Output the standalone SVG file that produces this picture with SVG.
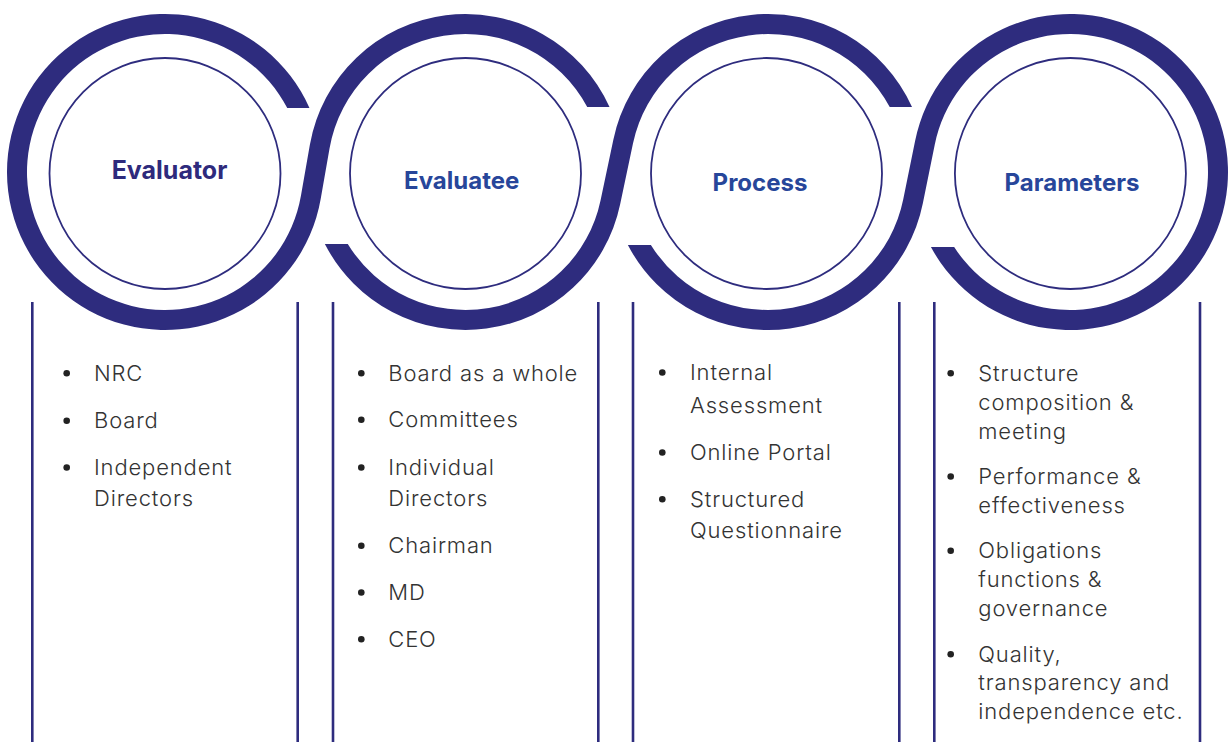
<svg xmlns="http://www.w3.org/2000/svg" width="1230" height="742" viewBox="0 0 1230 742">
<style>
.ring{fill:#2e2c7e;stroke:none}
.inner{fill:#ffffff;stroke:#2e2c7e;stroke-width:1.8}
.vline{stroke:#2e2c7e;stroke-width:2.6;fill:none}
.title{font-family:Inter,'Liberation Sans',sans-serif;font-weight:700;font-size:24px;text-anchor:middle;fill:#27469a}
.t1{fill:#2e2a7c;font-size:25px}
.item{font-family:Inter,'Liberation Sans',sans-serif;font-weight:300;font-size:22px;letter-spacing:0.85px;fill:#333333}
.dot{fill:#222222}
</style>
<rect width="1230" height="742" fill="#ffffff"/>
<g id="rings">
<path class="ring" d="M 309.46,108 A 158 158 0 1 0 320.63,199.25 L 329.57,148.20 A 138 138 0 0 1 587.23,107 L 609.51,107 A 158 158 0 0 0 309.87,144.75 L 300.93,195.80 A 138 138 0 1 1 287.26,108 Z"/>
<path class="ring" d="M 347.77,244 A 138 138 0 0 0 600.53,200.45 L 613.40,139.42 A 158 158 0 0 1 912.01,107 L 889.73,107 A 138 138 0 0 0 632.97,143.55 L 620.10,204.58 A 158 158 0 0 1 324.86,244 Z"/>
<path class="ring" d="M 650.89,245 A 138 138 0 0 0 903.26,199.37 L 915.14,140.66 A 158 158 0 1 1 930.94,247 L 954.16,247 A 138 138 0 1 0 934.74,144.63 L 922.86,203.34 A 158 158 0 0 1 627.88,245 Z"/>
</g>
<g id="connectors">
<line class="vline" x1="32.3" y1="302" x2="32.3" y2="742"/>
<line class="vline" x1="297.7" y1="302" x2="297.7" y2="742"/>
<line class="vline" x1="333" y1="302" x2="333" y2="742"/>
<line class="vline" x1="598.3" y1="302" x2="598.3" y2="742"/>
<line class="vline" x1="633" y1="302" x2="633" y2="742"/>
<line class="vline" x1="899.3" y1="302" x2="899.3" y2="742"/>
<line class="vline" x1="934.3" y1="302" x2="934.3" y2="742"/>
<line class="vline" x1="1200" y1="302" x2="1200" y2="742"/>
</g>
<g id="node-evaluator">
<circle class="inner" cx="165" cy="173.5" r="115.5"/>
<text class="title t1" x="169.5" y="179.3">Evaluator</text>
<circle class="dot" cx="66.7" cy="373.2" r="3.3"/>
<circle class="dot" cx="66.7" cy="420.8" r="3.3"/>
<circle class="dot" cx="66.7" cy="467.5" r="3.3"/>
<text class="item" x="94" y="380.7">NRC</text>
<text class="item" x="94" y="428.3">Board</text>
<text class="item" x="94" y="475">Independent</text>
<text class="item" x="94" y="505.7">Directors</text>
</g>
<g id="node-evaluatee">
<circle class="inner" cx="465.5" cy="173.5" r="115.5"/>
<text class="title" x="461.7" y="189">Evaluatee</text>
<circle class="dot" cx="361.3" cy="373.2" r="3.3"/>
<circle class="dot" cx="361.3" cy="419.8" r="3.3"/>
<circle class="dot" cx="361.3" cy="467.5" r="3.3"/>
<circle class="dot" cx="361.3" cy="545.8" r="3.3"/>
<circle class="dot" cx="361.3" cy="592.5" r="3.3"/>
<circle class="dot" cx="361.3" cy="639.2" r="3.3"/>
<text class="item" x="388.3" y="380.7">Board as a whole</text>
<text class="item" x="388.3" y="427.3">Committees</text>
<text class="item" x="388.3" y="475">Individual</text>
<text class="item" x="388.3" y="505.7">Directors</text>
<text class="item" x="388.3" y="553.3">Chairman</text>
<text class="item" x="388.3" y="600">MD</text>
<text class="item" x="388.3" y="646.7">CEO</text>
</g>
<g id="node-process">
<circle class="inner" cx="766.5" cy="173.5" r="115.5"/>
<text class="title" x="760" y="190.5">Process</text>
<circle class="dot" cx="662.3" cy="372.5" r="3.3"/>
<circle class="dot" cx="662.3" cy="452.5" r="3.3"/>
<circle class="dot" cx="662.3" cy="499.2" r="3.3"/>
<text class="item" x="690" y="380">Internal</text>
<text class="item" x="690" y="412.7">Assessment</text>
<text class="item" x="690" y="460">Online Portal</text>
<text class="item" x="690" y="506.7">Structured</text>
<text class="item" x="690" y="538.3">Questionnaire</text>
</g>
<g id="node-parameters">
<circle class="inner" cx="1070.4" cy="173.5" r="115.5"/>
<text class="title" x="1072" y="190.5">Parameters</text>
<circle class="dot" cx="950.7" cy="373.2" r="3.3"/>
<circle class="dot" cx="950.7" cy="476.5" r="3.3"/>
<circle class="dot" cx="950.7" cy="550.8" r="3.3"/>
<circle class="dot" cx="950.7" cy="654.2" r="3.3"/>
<text class="item" x="978.3" y="380.7">Structure</text>
<text class="item" x="978.3" y="410">composition &amp;</text>
<text class="item" x="978.3" y="439.3">meeting</text>
<text class="item" x="978.3" y="484">Performance &amp;</text>
<text class="item" x="978.3" y="512.7">effectiveness</text>
<text class="item" x="978.3" y="558.3">Obligations</text>
<text class="item" x="978.3" y="586.7">functions &amp;</text>
<text class="item" x="978.3" y="616">governance</text>
<text class="item" x="978.3" y="661.7">Quality,</text>
<text class="item" x="978.3" y="690">transparency and</text>
<text class="item" x="978.3" y="719.3">independence etc.</text>
</g>
</svg>
